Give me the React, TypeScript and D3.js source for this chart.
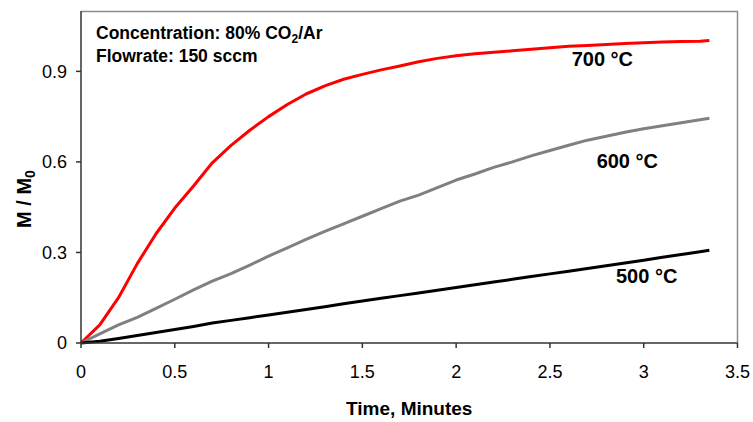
import React from "react";
import * as d3 from "d3";

// time in minutes, sampled every 0.1 min
const times = [
  0, 0.1, 0.2, 0.3, 0.4, 0.5, 0.6, 0.7, 0.8, 0.9, 1.0, 1.1, 1.2, 1.3, 1.4, 1.5, 1.6, 1.7,
  1.8, 1.9, 2.0, 2.1, 2.2, 2.3, 2.4, 2.5, 2.6, 2.7, 2.8, 2.9, 3.0, 3.1, 3.2, 3.3, 3.35,
];

const m700 = [
  0, 0.06, 0.15, 0.263, 0.362, 0.447, 0.52, 0.597, 0.655, 0.705, 0.75, 0.79, 0.825, 0.852,
  0.874, 0.89, 0.905, 0.918, 0.932, 0.943, 0.952, 0.958, 0.963, 0.968, 0.973, 0.978, 0.983,
  0.986, 0.989, 0.992, 0.995, 0.997, 0.999, 1.0, 1.002,
];

const m600 = [
  0, 0.03, 0.06, 0.085, 0.115, 0.145, 0.176, 0.205, 0.23, 0.258, 0.288, 0.315, 0.343, 0.37,
  0.395, 0.42, 0.445, 0.47, 0.49, 0.515, 0.54, 0.56, 0.582, 0.6, 0.62, 0.638, 0.655, 0.672,
  0.685, 0.698, 0.71, 0.72, 0.73, 0.74, 0.745,
];

const m500 = [
  0, 0.006, 0.015, 0.025, 0.035, 0.045, 0.055, 0.066, 0.075, 0.084, 0.093, 0.102, 0.111,
  0.12, 0.13, 0.139, 0.148, 0.157, 0.166, 0.175, 0.184, 0.193, 0.202, 0.211, 0.22, 0.229,
  0.238, 0.247, 0.256, 0.265, 0.274, 0.284, 0.293, 0.302, 0.307,
];

const xTicks = [0, 0.5, 1, 1.5, 2, 2.5, 3, 3.5];
const yTicks = [0, 0.3, 0.6, 0.9];

const seriesNames = ["700 °C", "600 °C", "500 °C"];
const seriesValues = [m700, m600, m500];
const seriesColors = ["#ff0000", "#808080", "#000000"];
// where each label starts, in data units (x, baseline y)
const labelAt = [
  [2.616, 0.918],
  [2.749, 0.579],
  [2.852, 0.2],
];

const W = 753;
const H = 422;
const plot = { left: 81, top: 11, right: 737.5, bottom: 343 };
const font = "'Liberation Sans', Arial, sans-serif";

export default function App() {
  const x = d3.scaleLinear().domain([0, 3.5]).range([plot.left, plot.right]);
  const y = d3.scaleLinear().domain([0, 1.1]).range([plot.bottom, plot.top]);

  const line = d3
    .line<number>()
    .x((_, i) => x(times[i]))
    .y((d) => y(d));

  return (
    <svg
      width={W}
      height={H}
      style={{ position: "absolute", left: 0, top: 0, background: "#fff" }}
      fontFamily={font}
    >
      {/* frame */}
      <line x1={plot.left} x2={plot.right} y1={plot.top + 0.5} y2={plot.top + 0.5} stroke="#8c8c8c" strokeWidth={1.5} />
      <line x1={plot.right} x2={plot.right} y1={plot.top} y2={plot.bottom} stroke="#8c8c8c" strokeWidth={1.5} />

      {seriesValues.map((vals, i) => (
        <path key={i} d={line(vals) || ""} fill="none" stroke={seriesColors[i]} strokeWidth={3} strokeLinejoin="round" />
      ))}

      {/* axes */}
      <line x1={plot.left} x2={plot.left} y1={plot.top} y2={plot.bottom} stroke="#333" strokeWidth={1.5} />
      <line x1={plot.left} x2={plot.right} y1={plot.bottom} y2={plot.bottom} stroke="#333" strokeWidth={1.5} />

      {yTicks.map((t) => (
        <g key={t}>
          <line x1={plot.left - 5} x2={plot.left} y1={y(t)} y2={y(t)} stroke="#333" strokeWidth={1.5} />
          <text x={67} y={y(t)} dy="0.35em" textAnchor="end" fontSize={18}>
            {t === 0 ? "0" : t.toFixed(1)}
          </text>
        </g>
      ))}

      {xTicks.map((t) => (
        <g key={t}>
          <line x1={x(t)} x2={x(t)} y1={plot.bottom} y2={plot.bottom + 5} stroke="#333" strokeWidth={1.5} />
          <text x={x(t)} y={378} textAnchor="middle" fontSize={18}>
            {String(t)}
          </text>
        </g>
      ))}

      <text x={(plot.left + plot.right) / 2} y={415} textAnchor="middle" fontSize={19} fontWeight="bold">
        Time, Minutes
      </text>
      <text transform="translate(31,199) rotate(-90)" textAnchor="middle" fontSize={20} fontWeight="bold">
        M / M<tspan fontSize={14} dy={4}>0</tspan>
      </text>

      <text x={96} y={39} fontSize={17.5} fontWeight="bold">
        Concentration: 80% CO<tspan fontSize={12} dy={4}>2</tspan>
        <tspan dy={-4}>/Ar</tspan>
      </text>
      <text x={96} y={61.5} fontSize={17.5} fontWeight="bold">
        Flowrate: 150 sccm
      </text>

      {seriesNames.map((name, i) => (
        <text key={name} x={x(labelAt[i][0])} y={y(labelAt[i][1])} fontSize={20} fontWeight="bold">
          {name}
        </text>
      ))}
    </svg>
  );
}
